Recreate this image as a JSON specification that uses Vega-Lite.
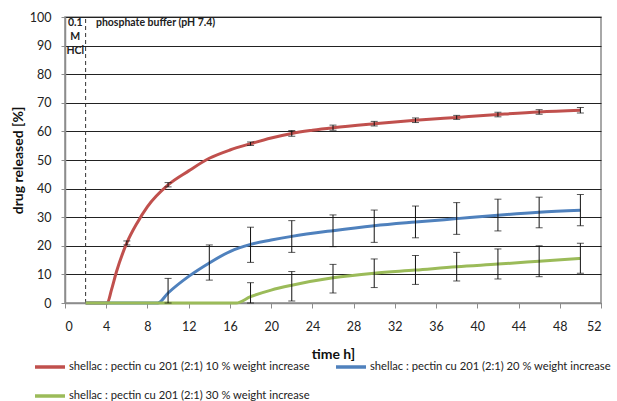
{
  "$schema": "https://vega.github.io/schema/vega-lite/v6.json",
  "width": 536,
  "height": 286,
  "autosize": {"type": "none"},
  "padding": {"left": 65, "top": 17, "right": 16, "bottom": 98},
  "config": {
    "font": "Lato",
    "view": {"stroke": "#8c8c8c", "strokeWidth": 1.5},
    "axis": {"labelFont": "Lato", "titleFont": "Lato", "labelColor": "#222", "titleColor": "#111"}
  },
  "datasets": {
    "curves": [
      {"series": "shellac : pectin cu 201 (2:1) 10 % weight increase", "t": 2, "v": 0},
      {"series": "shellac : pectin cu 201 (2:1) 10 % weight increase", "t": 4.1, "v": 0},
      {"series": "shellac : pectin cu 201 (2:1) 10 % weight increase", "t": 4.5, "v": 4.5},
      {"series": "shellac : pectin cu 201 (2:1) 10 % weight increase", "t": 5, "v": 11},
      {"series": "shellac : pectin cu 201 (2:1) 10 % weight increase", "t": 6, "v": 21},
      {"series": "shellac : pectin cu 201 (2:1) 10 % weight increase", "t": 7, "v": 28},
      {"series": "shellac : pectin cu 201 (2:1) 10 % weight increase", "t": 8, "v": 33.7},
      {"series": "shellac : pectin cu 201 (2:1) 10 % weight increase", "t": 10, "v": 41.3},
      {"series": "shellac : pectin cu 201 (2:1) 10 % weight increase", "t": 12, "v": 46.2},
      {"series": "shellac : pectin cu 201 (2:1) 10 % weight increase", "t": 14, "v": 50.6},
      {"series": "shellac : pectin cu 201 (2:1) 10 % weight increase", "t": 16, "v": 53.5},
      {"series": "shellac : pectin cu 201 (2:1) 10 % weight increase", "t": 18, "v": 55.7},
      {"series": "shellac : pectin cu 201 (2:1) 10 % weight increase", "t": 20, "v": 57.7},
      {"series": "shellac : pectin cu 201 (2:1) 10 % weight increase", "t": 22, "v": 59.3},
      {"series": "shellac : pectin cu 201 (2:1) 10 % weight increase", "t": 24, "v": 60.4},
      {"series": "shellac : pectin cu 201 (2:1) 10 % weight increase", "t": 26, "v": 61.3},
      {"series": "shellac : pectin cu 201 (2:1) 10 % weight increase", "t": 30, "v": 62.7},
      {"series": "shellac : pectin cu 201 (2:1) 10 % weight increase", "t": 34, "v": 63.9},
      {"series": "shellac : pectin cu 201 (2:1) 10 % weight increase", "t": 38, "v": 64.9},
      {"series": "shellac : pectin cu 201 (2:1) 10 % weight increase", "t": 42, "v": 65.9},
      {"series": "shellac : pectin cu 201 (2:1) 10 % weight increase", "t": 46, "v": 66.8},
      {"series": "shellac : pectin cu 201 (2:1) 10 % weight increase", "t": 50, "v": 67.4},
      {"series": "shellac : pectin cu 201 (2:1) 20 % weight increase", "t": 2, "v": 0},
      {"series": "shellac : pectin cu 201 (2:1) 20 % weight increase", "t": 9, "v": 0},
      {"series": "shellac : pectin cu 201 (2:1) 20 % weight increase", "t": 10, "v": 3.5},
      {"series": "shellac : pectin cu 201 (2:1) 20 % weight increase", "t": 12, "v": 9.3},
      {"series": "shellac : pectin cu 201 (2:1) 20 % weight increase", "t": 14, "v": 14},
      {"series": "shellac : pectin cu 201 (2:1) 20 % weight increase", "t": 16, "v": 18},
      {"series": "shellac : pectin cu 201 (2:1) 20 % weight increase", "t": 18, "v": 20.5},
      {"series": "shellac : pectin cu 201 (2:1) 20 % weight increase", "t": 20, "v": 22},
      {"series": "shellac : pectin cu 201 (2:1) 20 % weight increase", "t": 22, "v": 23.3},
      {"series": "shellac : pectin cu 201 (2:1) 20 % weight increase", "t": 26, "v": 25.3},
      {"series": "shellac : pectin cu 201 (2:1) 20 % weight increase", "t": 30, "v": 27},
      {"series": "shellac : pectin cu 201 (2:1) 20 % weight increase", "t": 34, "v": 28.3},
      {"series": "shellac : pectin cu 201 (2:1) 20 % weight increase", "t": 38, "v": 29.5},
      {"series": "shellac : pectin cu 201 (2:1) 20 % weight increase", "t": 42, "v": 30.7},
      {"series": "shellac : pectin cu 201 (2:1) 20 % weight increase", "t": 46, "v": 31.7},
      {"series": "shellac : pectin cu 201 (2:1) 20 % weight increase", "t": 50, "v": 32.4},
      {"series": "shellac : pectin cu 201 (2:1) 30 % weight increase", "t": 2, "v": 0},
      {"series": "shellac : pectin cu 201 (2:1) 30 % weight increase", "t": 16.6, "v": 0},
      {"series": "shellac : pectin cu 201 (2:1) 30 % weight increase", "t": 18, "v": 2.2},
      {"series": "shellac : pectin cu 201 (2:1) 30 % weight increase", "t": 20, "v": 4.5},
      {"series": "shellac : pectin cu 201 (2:1) 30 % weight increase", "t": 22, "v": 6.2},
      {"series": "shellac : pectin cu 201 (2:1) 30 % weight increase", "t": 26, "v": 8.8},
      {"series": "shellac : pectin cu 201 (2:1) 30 % weight increase", "t": 30, "v": 10.4},
      {"series": "shellac : pectin cu 201 (2:1) 30 % weight increase", "t": 34, "v": 11.5},
      {"series": "shellac : pectin cu 201 (2:1) 30 % weight increase", "t": 38, "v": 12.7},
      {"series": "shellac : pectin cu 201 (2:1) 30 % weight increase", "t": 42, "v": 13.6},
      {"series": "shellac : pectin cu 201 (2:1) 30 % weight increase", "t": 46, "v": 14.6},
      {"series": "shellac : pectin cu 201 (2:1) 30 % weight increase", "t": 50, "v": 15.6}
    ],
    "errors": [
      {"t": 6, "v": 20.3, "v2": 21.7},
      {"t": 10, "v": 40.6, "v2": 42.1},
      {"t": 18, "v": 55.1, "v2": 56.3},
      {"t": 22, "v": 58.3, "v2": 60.3},
      {"t": 26, "v": 60.4, "v2": 62.2},
      {"t": 30, "v": 61.9, "v2": 63.5},
      {"t": 34, "v": 63.1, "v2": 64.7},
      {"t": 38, "v": 64.2, "v2": 65.6},
      {"t": 42, "v": 65.1, "v2": 66.7},
      {"t": 46, "v": 66.0, "v2": 67.6},
      {"t": 50, "v": 66.4, "v2": 68.4},
      {"t": 10, "v": 0, "v2": 8.6},
      {"t": 14, "v": 8.0, "v2": 20.3},
      {"t": 18, "v": 14.2, "v2": 26.5},
      {"t": 22, "v": 17.7, "v2": 28.8},
      {"t": 26, "v": 19.7, "v2": 30.8},
      {"t": 30, "v": 21.2, "v2": 32.5},
      {"t": 34, "v": 22.8, "v2": 33.9},
      {"t": 38, "v": 24.0, "v2": 35.1},
      {"t": 42, "v": 25.2, "v2": 36.3},
      {"t": 46, "v": 26.3, "v2": 37.0},
      {"t": 50, "v": 27.0, "v2": 37.9},
      {"t": 18, "v": 0, "v2": 7.1},
      {"t": 22, "v": 0.7, "v2": 11.0},
      {"t": 26, "v": 3.5, "v2": 13.5},
      {"t": 30, "v": 5.4, "v2": 15.4},
      {"t": 34, "v": 6.5, "v2": 16.6},
      {"t": 38, "v": 7.7, "v2": 17.7},
      {"t": 42, "v": 8.4, "v2": 18.9},
      {"t": 46, "v": 9.2, "v2": 20.0},
      {"t": 50, "v": 10.4, "v2": 20.9}
    ]
  },
  "encoding": {
    "x": {
      "field": "t", "type": "quantitative",
      "scale": {"domain": [0, 52], "nice": false},
      "axis": {
        "values": [0, 4, 8, 12, 16, 20, 24, 28, 32, 36, 40, 44, 48, 52],
        "title": "time h]", "titleFontSize": 14, "titleFontWeight": "bold", "titlePadding": 15,
        "labelFontSize": 12.5, "labelPadding": 12, "tickSize": 5, "tickColor": "#8c8c8c",
        "domainColor": "#8c8c8c", "domainWidth": 1.5, "grid": false
      }
    },
    "y": {
      "field": "v", "type": "quantitative",
      "scale": {"domain": [0, 100], "nice": false},
      "axis": {
        "values": [0, 10, 20, 30, 40, 50, 60, 70, 80, 90, 100],
        "title": "drug released [%]", "titleFontSize": 14, "titleFontWeight": "bold", "titlePadding": 4,
        "labelFontSize": 12.5, "labelPadding": 10, "tickSize": 4, "tickColor": "#8c8c8c",
        "domainColor": "#8c8c8c", "domainWidth": 1.5,
        "grid": true, "gridColor": "#222", "gridWidth": 1
      }
    }
  },
  "layer": [
    {
      "data": {"values": [{"t": 2, "v": 0, "v2": 100}]},
      "mark": {"type": "rule", "color": "#333", "strokeDash": [4, 3], "strokeWidth": 1},
      "encoding": {
        "y2": {"field": "v2"}
      }
    },
    {
      "data": {"name": "curves"},
      "mark": {"type": "line", "interpolate": "monotone", "strokeWidth": 3},
      "encoding": {
        "color": {
          "field": "series", "type": "nominal",
          "scale": {"range": ["#C0504D", "#4F81BD", "#9BBB59"]},
          "legend": {
            "title": null, "orient": "none", "legendX": -32, "legendY": 333,
            "direction": "horizontal", "columns": 2, "columnPadding": 19, "rowPadding": 5,
            "symbolType": "stroke", "symbolSize": 900, "symbolStrokeWidth": 3.5,
            "labelFont": "Lato", "labelFontSize": 11.2, "labelColor": "#222", "labelOffset": 2,
            "labelLimit": 400
          }
        }
      }
    },
    {
      "data": {"name": "errors"},
      "mark": {"type": "errorbar", "ticks": {"size": 7, "color": "#111"}, "rule": {"color": "#111"}, "color": "#111"},
      "encoding": {
        "y2": {"field": "v2"}
      }
    },
    {
      "data": {"values": [{"label": "0.1|M|HCl", "t": 1, "v": 99.6}]},
      "mark": {"type": "text", "fontWeight": "bold", "fontSize": 10.5, "align": "center", "baseline": "top", "lineHeight": 14, "lineBreak": "|", "color": "#222", "font": "Lato"},
      "encoding": {
        "text": {"field": "label"}
      }
    },
    {
      "data": {"values": [{"label": "phosphate buffer (pH 7.4)", "t": 3, "v": 99.6}]},
      "mark": {"type": "text", "fontWeight": "bold", "fontSize": 10.5, "align": "left", "baseline": "top", "color": "#222", "font": "Lato"},
      "encoding": {
        "text": {"field": "label"}
      }
    }
  ]
}
